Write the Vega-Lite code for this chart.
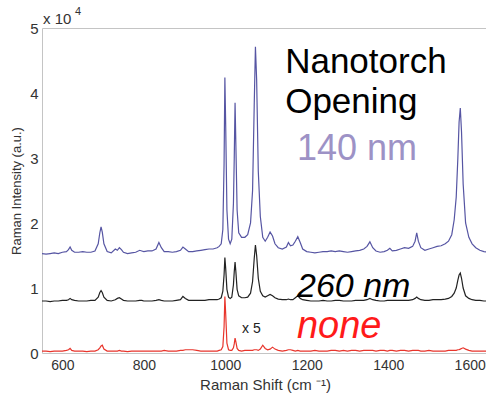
{
  "$schema": "https://vega.github.io/schema/vega-lite/v6.json",
  "width": 446,
  "height": 325,
  "autosize": "none",
  "padding": {"left": 42, "top": 28, "right": 0, "bottom": 44},
  "background": "white",
  "config": {
    "view": {"stroke": "#c4c4c4", "strokeWidth": 1},
    "font": "Liberation Sans",
    "axis": {"grid": false, "domain": false, "ticks": false, "labelColor": "#333333", "labelFontSize": 15, "titleColor": "#333333", "titleFontWeight": "normal", "labelFont": "Liberation Sans", "titleFont": "Liberation Sans"}
  },
  "layer": [
    {
      "data": {"values": [
        {"x":550,"a":1.53,"b":0.80,"c":0.03},{"x":560,"a":1.52,"b":0.80,"c":0.03},{"x":570,"a":1.53,"b":0.79,"c":0.02},{"x":580,"a":1.54,"b":0.80,"c":0.03},{"x":590,"a":1.53,"b":0.80,"c":0.03},{"x":600,"a":1.55,"b":0.81,"c":0.03},{"x":610,"a":1.56,"b":0.81,"c":0.04},{"x":615,"a":1.59,"b":0.82,"c":0.05},{"x":619,"a":1.63,"b":0.84,"c":0.07},{"x":623,"a":1.58,"b":0.82,"c":0.04},{"x":630,"a":1.55,"b":0.81,"c":0.03},{"x":640,"a":1.55,"b":0.80,"c":0.03},{"x":650,"a":1.56,"b":0.80,"c":0.03},{"x":660,"a":1.55,"b":0.80,"c":0.02},{"x":670,"a":1.55,"b":0.81,"c":0.03},{"x":680,"a":1.57,"b":0.81,"c":0.03},{"x":688,"a":1.68,"b":0.86,"c":0.05},{"x":692,"a":1.85,"b":0.93,"c":0.08},{"x":695,"a":1.94,"b":0.96,"c":0.11},{"x":698,"a":1.86,"b":0.93,"c":0.12},{"x":702,"a":1.68,"b":0.86,"c":0.06},{"x":710,"a":1.56,"b":0.81,"c":0.03},{"x":720,"a":1.54,"b":0.80,"c":0.03},{"x":730,"a":1.60,"b":0.82,"c":0.03},{"x":735,"a":1.58,"b":0.84,"c":0.03},{"x":740,"a":1.62,"b":0.85,"c":0.04},{"x":745,"a":1.59,"b":0.83,"c":0.03},{"x":750,"a":1.55,"b":0.81,"c":0.03},{"x":760,"a":1.53,"b":0.80,"c":0.02},{"x":770,"a":1.54,"b":0.80,"c":0.03},{"x":780,"a":1.55,"b":0.80,"c":0.03},{"x":790,"a":1.58,"b":0.81,"c":0.03},{"x":795,"a":1.57,"b":0.81,"c":0.03},{"x":800,"a":1.56,"b":0.80,"c":0.03},{"x":810,"a":1.57,"b":0.80,"c":0.03},{"x":820,"a":1.57,"b":0.80,"c":0.03},{"x":830,"a":1.60,"b":0.81,"c":0.03},{"x":837,"a":1.70,"b":0.82,"c":0.03},{"x":843,"a":1.62,"b":0.81,"c":0.03},{"x":850,"a":1.56,"b":0.80,"c":0.04},{"x":860,"a":1.56,"b":0.80,"c":0.03},{"x":870,"a":1.55,"b":0.80,"c":0.03},{"x":880,"a":1.56,"b":0.81,"c":0.03},{"x":890,"a":1.58,"b":0.82,"c":0.04},{"x":896,"a":1.63,"b":0.87,"c":0.04},{"x":902,"a":1.60,"b":0.84,"c":0.05},{"x":910,"a":1.56,"b":0.81,"c":0.05},{"x":920,"a":1.56,"b":0.81,"c":0.05},{"x":930,"a":1.57,"b":0.81,"c":0.04},{"x":940,"a":1.58,"b":0.81,"c":0.03},{"x":950,"a":1.59,"b":0.81,"c":0.03},{"x":960,"a":1.60,"b":0.82,"c":0.03},{"x":970,"a":1.60,"b":0.82,"c":0.03},{"x":980,"a":1.62,"b":0.82,"c":0.03},{"x":985,"a":1.64,"b":0.83,"c":0.04},{"x":990,"a":1.68,"b":0.85,"c":0.05},{"x":994,"a":1.90,"b":0.95,"c":0.10},{"x":997,"a":2.90,"b":1.20,"c":0.40},{"x":999,"a":4.24,"b":1.47,"c":0.87},{"x":1001,"a":3.50,"b":1.30,"c":0.60},{"x":1004,"a":2.20,"b":0.98,"c":0.15},{"x":1008,"a":1.75,"b":0.86,"c":0.05},{"x":1012,"a":1.68,"b":0.84,"c":0.04},{"x":1016,"a":1.75,"b":0.86,"c":0.04},{"x":1020,"a":2.30,"b":1.05,"c":0.08},{"x":1022,"a":3.00,"b":1.25,"c":0.14},{"x":1024,"a":3.85,"b":1.40,"c":0.23},{"x":1026,"a":3.20,"b":1.25,"c":0.17},{"x":1029,"a":2.20,"b":0.98,"c":0.07},{"x":1033,"a":1.85,"b":0.88,"c":0.04},{"x":1040,"a":1.78,"b":0.85,"c":0.03},{"x":1048,"a":1.78,"b":0.85,"c":0.04},{"x":1055,"a":1.82,"b":0.86,"c":0.04},{"x":1062,"a":2.00,"b":0.92,"c":0.04},{"x":1067,"a":2.50,"b":1.10,"c":0.04},{"x":1071,"a":3.80,"b":1.45,"c":0.05},{"x":1074,"a":4.71,"b":1.66,"c":0.05},{"x":1077,"a":4.20,"b":1.50,"c":0.05},{"x":1081,"a":2.80,"b":1.15,"c":0.04},{"x":1086,"a":2.10,"b":0.95,"c":0.06},{"x":1092,"a":1.78,"b":0.88,"c":0.12},{"x":1098,"a":1.72,"b":0.86,"c":0.07},{"x":1104,"a":1.78,"b":0.88,"c":0.05},{"x":1110,"a":1.86,"b":0.90,"c":0.06},{"x":1116,"a":1.80,"b":0.88,"c":0.09},{"x":1122,"a":1.68,"b":0.85,"c":0.06},{"x":1130,"a":1.62,"b":0.83,"c":0.04},{"x":1140,"a":1.60,"b":0.82,"c":0.03},{"x":1150,"a":1.63,"b":0.82,"c":0.04},{"x":1155,"a":1.70,"b":0.83,"c":0.05},{"x":1160,"a":1.65,"b":0.82,"c":0.05},{"x":1166,"a":1.66,"b":0.82,"c":0.04},{"x":1172,"a":1.72,"b":0.85,"c":0.03},{"x":1178,"a":1.79,"b":0.88,"c":0.04},{"x":1184,"a":1.70,"b":0.84,"c":0.03},{"x":1190,"a":1.60,"b":0.82,"c":0.03},{"x":1200,"a":1.56,"b":0.81,"c":0.03},{"x":1210,"a":1.55,"b":0.80,"c":0.03},{"x":1220,"a":1.54,"b":0.80,"c":0.04},{"x":1230,"a":1.55,"b":0.80,"c":0.03},{"x":1240,"a":1.56,"b":0.81,"c":0.03},{"x":1250,"a":1.56,"b":0.80,"c":0.03},{"x":1260,"a":1.57,"b":0.80,"c":0.04},{"x":1270,"a":1.56,"b":0.81,"c":0.04},{"x":1280,"a":1.57,"b":0.81,"c":0.03},{"x":1290,"a":1.56,"b":0.80,"c":0.04},{"x":1300,"a":1.55,"b":0.80,"c":0.03},{"x":1310,"a":1.56,"b":0.80,"c":0.04},{"x":1320,"a":1.57,"b":0.81,"c":0.04},{"x":1330,"a":1.58,"b":0.81,"c":0.03},{"x":1340,"a":1.60,"b":0.81,"c":0.04},{"x":1348,"a":1.64,"b":0.82,"c":0.04},{"x":1355,"a":1.71,"b":0.84,"c":0.04},{"x":1362,"a":1.62,"b":0.82,"c":0.04},{"x":1370,"a":1.57,"b":0.81,"c":0.03},{"x":1380,"a":1.55,"b":0.80,"c":0.04},{"x":1390,"a":1.56,"b":0.80,"c":0.04},{"x":1398,"a":1.58,"b":0.81,"c":0.03},{"x":1404,"a":1.61,"b":0.81,"c":0.04},{"x":1410,"a":1.57,"b":0.81,"c":0.04},{"x":1420,"a":1.58,"b":0.81,"c":0.03},{"x":1430,"a":1.60,"b":0.81,"c":0.04},{"x":1440,"a":1.62,"b":0.81,"c":0.04},{"x":1450,"a":1.61,"b":0.81,"c":0.03},{"x":1460,"a":1.64,"b":0.82,"c":0.04},{"x":1466,"a":1.72,"b":0.84,"c":0.04},{"x":1470,"a":1.85,"b":0.86,"c":0.04},{"x":1474,"a":1.72,"b":0.84,"c":0.04},{"x":1480,"a":1.62,"b":0.82,"c":0.03},{"x":1490,"a":1.58,"b":0.81,"c":0.03},{"x":1500,"a":1.60,"b":0.81,"c":0.04},{"x":1510,"a":1.62,"b":0.82,"c":0.03},{"x":1520,"a":1.64,"b":0.82,"c":0.03},{"x":1530,"a":1.65,"b":0.82,"c":0.03},{"x":1540,"a":1.68,"b":0.83,"c":0.03},{"x":1548,"a":1.72,"b":0.84,"c":0.04},{"x":1556,"a":1.82,"b":0.87,"c":0.04},{"x":1562,"a":2.05,"b":0.92,"c":0.04},{"x":1567,"a":2.40,"b":1.00,"c":0.04},{"x":1571,"a":3.00,"b":1.12,"c":0.05},{"x":1574,"a":3.55,"b":1.20,"c":0.05},{"x":1577,"a":3.77,"b":1.23,"c":0.06},{"x":1580,"a":3.40,"b":1.15,"c":0.07},{"x":1584,"a":2.60,"b":1.00,"c":0.08},{"x":1590,"a":2.00,"b":0.88,"c":0.06},{"x":1598,"a":1.78,"b":0.84,"c":0.04},{"x":1606,"a":1.68,"b":0.82,"c":0.03},{"x":1615,"a":1.62,"b":0.81,"c":0.03},{"x":1625,"a":1.58,"b":0.81,"c":0.03},{"x":1635,"a":1.56,"b":0.80,"c":0.03},{"x":1645,"a":1.55,"b":0.80,"c":0.03}
      ]},
      "transform": [{"fold": ["a", "b", "c"], "as": ["s", "y"]}],
      "mark": {"type": "line", "strokeWidth": 1.2, "clip": true},
      "encoding": {
        "x": {"field": "x", "type": "quantitative", "scale": {"domain": [550, 1645], "nice": false, "zero": false},
              "axis": {"values": [600, 800, 1000, 1200, 1400, 1600], "format": "d", "labelFontSize": 14, "title": "Raman Shift (cm \u207B\u00B9)", "titleFontSize": 15, "labelPadding": 5, "titlePadding": 5}},
        "y": {"field": "y", "type": "quantitative", "scale": {"domain": [0, 5], "nice": false},
              "axis": {"values": [0, 1, 2, 3, 4, 5], "format": "d", "title": "Raman Intensity (a.u.)", "titleFontSize": 13, "labelPadding": 4, "titlePadding": 6}},
        "color": {"field": "s", "type": "nominal", "scale": {"domain": ["a", "b", "c"], "range": ["#5655a3", "#222222", "#e8352c"]}, "legend": null},
        "detail": {"field": "s"}
      }
    },
    {
      "data": {"values": [{}]},
      "mark": {"type": "text", "text": "x 10", "align": "left", "baseline": "alphabetic", "fontSize": 15, "color": "#333333", "dx": 1, "dy": -4},
      "encoding": {"x": {"datum": 550, "type": "quantitative"}, "y": {"datum": 5, "type": "quantitative"}}
    },
    {
      "data": {"values": [{}]},
      "mark": {"type": "text", "text": "4", "align": "left", "baseline": "alphabetic", "fontSize": 11, "color": "#333333", "dx": 33, "dy": -13},
      "encoding": {"x": {"datum": 550, "type": "quantitative"}, "y": {"datum": 5, "type": "quantitative"}}
    },
    {
      "data": {"values": [{}]},
      "mark": {"type": "text", "text": "Nanotorch", "align": "left", "baseline": "alphabetic", "fontSize": 35, "color": "#000000"},
      "encoding": {"x": {"datum": 1147, "type": "quantitative"}, "y": {"datum": 4.31, "type": "quantitative"}}
    },
    {
      "data": {"values": [{}]},
      "mark": {"type": "text", "text": "Opening", "align": "left", "baseline": "alphabetic", "fontSize": 35, "color": "#000000"},
      "encoding": {"x": {"datum": 1147, "type": "quantitative"}, "y": {"datum": 3.69, "type": "quantitative"}}
    },
    {
      "data": {"values": [{}]},
      "mark": {"type": "text", "text": "140 nm", "align": "left", "baseline": "alphabetic", "fontSize": 36, "color": "#9d92c6"},
      "encoding": {"x": {"datum": 1176, "type": "quantitative"}, "y": {"datum": 2.97, "type": "quantitative"}}
    },
    {
      "data": {"values": [{}]},
      "mark": {"type": "text", "text": "260 nm", "align": "left", "baseline": "alphabetic", "fontSize": 34, "fontStyle": "italic", "color": "#000000"},
      "encoding": {"x": {"datum": 1176, "type": "quantitative"}, "y": {"datum": 0.86, "type": "quantitative"}}
    },
    {
      "data": {"values": [{}]},
      "mark": {"type": "text", "text": "none", "align": "left", "baseline": "alphabetic", "fontSize": 38, "fontStyle": "italic", "color": "#ff1a1a"},
      "encoding": {"x": {"datum": 1176, "type": "quantitative"}, "y": {"datum": 0.23, "type": "quantitative"}}
    },
    {
      "data": {"values": [{}]},
      "mark": {"type": "text", "text": "x 5", "align": "left", "baseline": "alphabetic", "fontSize": 14, "color": "#222222"},
      "encoding": {"x": {"datum": 1041, "type": "quantitative"}, "y": {"datum": 0.31, "type": "quantitative"}}
    }
  ]
}
